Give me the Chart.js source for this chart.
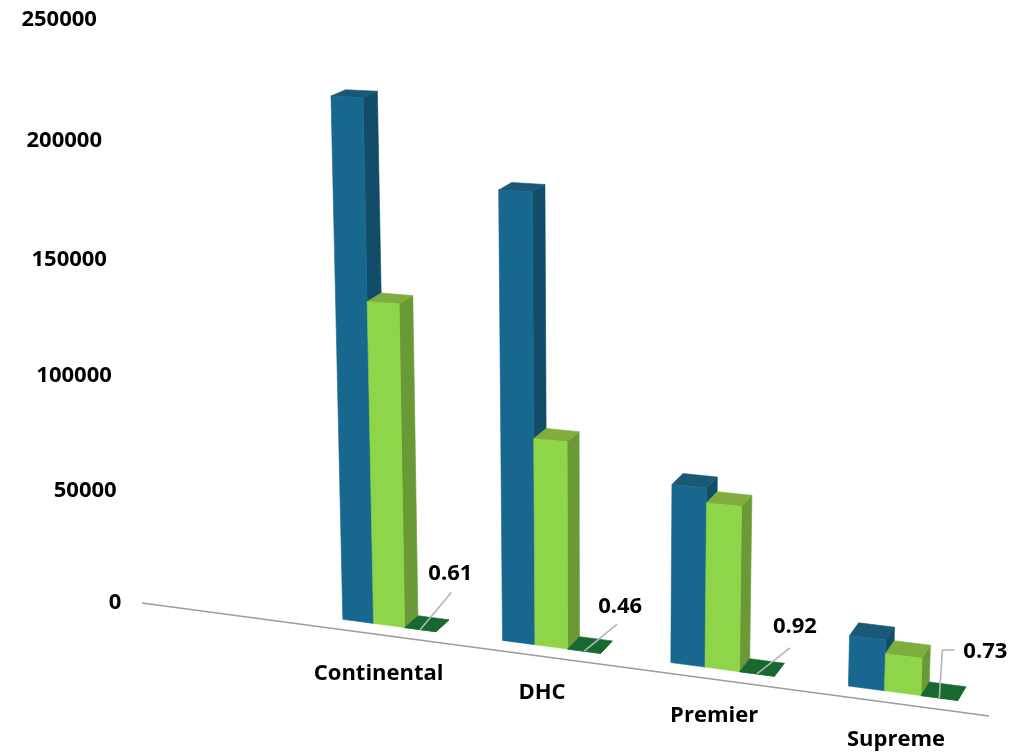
<!DOCTYPE html>
<html>
<head>
<meta charset="utf-8">
<title>Bar chart</title>
<script src="https://cdn.jsdelivr.net/npm/chart.js@4"></script>
<style>
    body { margin: 0; background: #fff; }
    canvas { display: block; }
</style>
</head>
<body>
<canvas id="myChart" width="1020" height="752"></canvas>
<script>
// Chart data (the first band of the axis is left empty)
const categories = ['', 'Continental', 'DHC', 'Premier', 'Supreme'];
const seriesBlue = [null, 220000, 186000, 73500, 20500];
const seriesGreen = [null, 137000, 86500, 67500, 15000];
const seriesRatio = [null, 0.61, 0.46, 0.92, 0.73];
const tickValues = [0, 50000, 100000, 150000, 200000, 250000];

// Colours of the bar faces, per series
const frontColors = ['#17678e', '#8fd54a', '#17692f'];
const sideColors = ['#114c69', '#6a9a35', '#17692f'];
const topColors = ['#1a5878', '#7fae3e', '#17692f'];

const labelFont = '700 22px "Open Sans", sans-serif';

// Vanishing points of the three axes, and how fast each axis runs towards its point
const view = {
    origin: [142, 603],
    across: [-5770, -186],
    up: [600, 12000],
    depth: [1640, -470],
    acrossRate: -0.1253,
    upRate: -0.0488
};
const barFront = 0.008;
const barBack = 0.0185;
const bandScale = 0.9926;
const bandShift = 0.0094;

// u and v run from 0 to 1 along the plot, w is the depth
function project(u, v, w) {
    const a = view.acrossRate * u;
    const b = view.upRate * v;
    const d = a + b + w + 1;
    return [
        (a * view.across[0] + b * view.up[0] + w * view.depth[0] + view.origin[0]) / d,
        (a * view.across[1] + b * view.up[1] + w * view.depth[1] + view.origin[1]) / d
    ];
}

// Position of an x scale pixel along the floor line
function alongFloor(xs, px) {
    return (px - xs.left) / xs.width * bandScale + bandShift;
}

function polygon(ctx, points, fill) {
    ctx.beginPath();
    points.forEach(function (p, i) {
        if (i === 0) ctx.moveTo(p[0], p[1]);
        else ctx.lineTo(p[0], p[1]);
    });
    ctx.closePath();
    ctx.fillStyle = fill;
    ctx.strokeStyle = fill;
    ctx.lineWidth = 0.6;
    ctx.fill();
    ctx.stroke();
}

// Draws one bar element as a box: side, top, then front
function drawBox(chart, bar, index) {
    const ctx = chart.ctx;
    const xs = chart.scales.x;
    const ys = chart.scales.y;
    const left = alongFloor(xs, bar.x - bar.width / 2);
    const right = alongFloor(xs, bar.x + bar.width / 2);
    const top = (ys.bottom - bar.y) / ys.height;

    polygon(ctx, [project(right, 0, barFront), project(right, 0, barBack),
                  project(right, top, barBack), project(right, top, barFront)], sideColors[index]);
    polygon(ctx, [project(left, top, barFront), project(left, top, barBack),
                  project(right, top, barBack), project(right, top, barFront)], topColors[index]);
    polygon(ctx, [project(left, 0, barFront), project(right, 0, barFront),
                  project(right, top, barFront), project(left, top, barFront)], frontColors[index]);
}

const categoryDrop = [0, 39, 36, 36, 36];

function drawAxes(chart) {
    const ctx = chart.ctx;
    const xs = chart.scales.x;
    const ys = chart.scales.y;

    // floor line
    const a = project(0, 0, 0);
    const b = project(1, 0, 0);
    ctx.strokeStyle = '#9c9c9c';
    ctx.lineWidth = 1.5;
    ctx.beginPath();
    ctx.moveTo(a[0], a[1]);
    ctx.lineTo(b[0], b[1]);
    ctx.stroke();

    ctx.font = labelFont;
    ctx.fillStyle = '#000';
    ctx.textBaseline = 'middle';

    // value axis labels lean with the axis
    ctx.textAlign = 'right';
    ys.ticks.forEach(function (tick) {
        const v = (ys.bottom - ys.getPixelForValue(tick.value)) / ys.height;
        const p = project(-0.028, v, 0);
        ctx.fillText(tick.label, p[0], p[1] + 2);
    });

    // category labels sit below the floor line
    ctx.textAlign = 'center';
    xs.ticks.forEach(function (tick, i) {
        const p = project(alongFloor(xs, xs.getPixelForTick(i)), 0, 0);
        ctx.fillText(xs.getLabelForValue(tick.value), p[0], p[1] + categoryDrop[i]);
    });
}

// Leader line and text for the ratio series
const leaderPaths = [
    [[31, -37]],
    [[33, -27]],
    [[33, -26]],
    [[3, -48], [15, -48]]
];
const leaderText = [[30, -56], [36, -44], [38, -47], [46, -46]];

function drawRatioLabels(chart) {
    const ctx = chart.ctx;
    const xs = chart.scales.x;
    const bars = chart.getDatasetMeta(2).data;
    seriesRatio.forEach(function (value, i) {
        if (value === null) return;
        const p = project(alongFloor(xs, bars[i].x), 0, barFront);

        ctx.strokeStyle = '#b4b4b4';
        ctx.lineWidth = 1.6;
        ctx.beginPath();
        ctx.moveTo(p[0], p[1]);
        leaderPaths[i - 1].forEach(function (step) {
            ctx.lineTo(p[0] + step[0], p[1] + step[1]);
        });
        ctx.stroke();

        ctx.font = labelFont;
        ctx.fillStyle = '#000';
        ctx.textAlign = 'center';
        ctx.textBaseline = 'middle';
        ctx.fillText(value.toFixed(2), p[0] + leaderText[i - 1][0], p[1] + leaderText[i - 1][1]);
    });
}

// Replaces the flat bars with the boxes
const boxPlugin = {
    id: 'boxPlugin',
    beforeDatasetsDraw: function (chart) {
        drawAxes(chart);
        chart.data.datasets.forEach(function (dataset, index) {
            chart.getDatasetMeta(index).data.forEach(function (bar, i) {
                if (dataset.data[i] !== null) drawBox(chart, bar, index);
            });
        });
        drawRatioLabels(chart);
        return false;
    }
};

const ctx = document.getElementById('myChart').getContext('2d');

const myChart = new Chart(ctx, {
    type: 'bar',
    data: {
        labels: categories,
        datasets: [
            { label: 'Series 1', data: seriesBlue, backgroundColor: frontColors[0] },
            { label: 'Series 2', data: seriesGreen, backgroundColor: frontColors[1] },
            { label: 'Ratio', data: seriesRatio, backgroundColor: frontColors[2] }
        ]
    },
    options: {
        responsive: false,
        animation: false,
        layout: { padding: 0 },
        datasets: { bar: { barPercentage: 1, categoryPercentage: 0.59 } },
        plugins: { legend: { display: false }, tooltip: { enabled: false } },
        scales: {
            x: { display: false },
            y: {
                display: false,
                min: tickValues[0],
                max: tickValues[tickValues.length - 1],
                afterBuildTicks: function (scale) {
                    scale.ticks = tickValues.map(function (value) { return { value: value }; });
                },
                ticks: { callback: function (value) { return String(value); } }
            }
        }
    },
    plugins: [boxPlugin]
});
</script>
</body>
</html>
